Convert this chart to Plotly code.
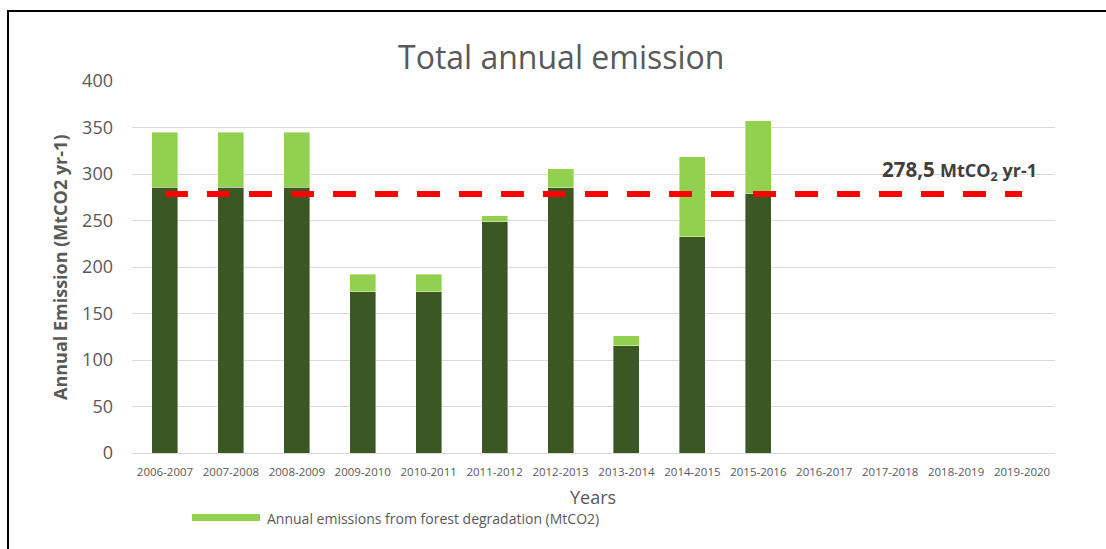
import plotly.graph_objects as go

categories = ["2006-2007", "2007-2008", "2008-2009", "2009-2010", "2010-2011",
              "2011-2012", "2012-2013", "2013-2014", "2014-2015", "2015-2016",
              "2016-2017", "2017-2018", "2018-2019", "2019-2020"]
deforestation = [286, 286, 286, 173.5, 173.5, 248.5, 285, 115.5, 232.5, 279,
                 None, None, None, None]
degradation = [59, 59, 59, 18.5, 18.5, 6.5, 20.5, 10.5, 86, 78,
               None, None, None, None]
reference_level = [278.5] * len(categories)
y_ticks = [0, 50, 100, 150, 200, 250, 300, 350, 400]

W, H = 1106, 549
L, R, T, B = 132, 51, 81, 96
PW, PH = W - L - R, H - T - B


def px(x):
    return (x - L) / PW


def py(y):
    return (H - B - y) / PH


FONT = "Open Sans"
GREY = "#595959"

fig = go.Figure()
fig.add_trace(go.Bar(
    x=categories, y=deforestation, name="Annual emissions from deforestation (MtCO2)",
    marker=dict(color="#3a5724", line=dict(color="rgba(255,255,255,0.5)", width=0.8)),
    showlegend=False,
))
fig.add_trace(go.Bar(
    x=categories, y=degradation, name="Annual emissions from forest degradation (MtCO2)",
    marker=dict(color="#92d050", line=dict(color="rgba(255,255,255,0.5)", width=0.8)),
    showlegend=False,
))
fig.add_trace(go.Scatter(
    x=categories, y=reference_level, mode="lines",
    line=dict(color="#ff0000", width=6, dash="23px,19px"),
    showlegend=False, hoverinfo="skip",
))

fig.update_layout(
    width=W, height=H,
    margin=dict(l=L, r=R, t=T, b=B, autoexpand=False),
    barmode="stack", bargap=0.605,
    plot_bgcolor="white", paper_bgcolor="white",
    font=dict(family=FONT, color=GREY),
    showlegend=False,
    xaxis=dict(
        type="category", categoryorder="array", categoryarray=categories,
        showgrid=False, showline=True, linecolor="#d9d9d9", linewidth=1,
        ticks="", tickfont=dict(size=11.5, color=GREY), ticklabelstandoff=8,
        fixedrange=True,
    ),
    yaxis=dict(
        range=[0, 400], tickvals=y_ticks, showgrid=True, gridcolor="#d9d9d9",
        gridwidth=1, zeroline=False, showline=False, ticks="",
        tickfont=dict(size=18, color=GREY), ticklabelstandoff=18,
    ),
    annotations=[
        dict(text="Total annual emission", xref="paper", yref="paper",
             x=px(561), y=py(56), xanchor="center", yanchor="middle",
             showarrow=False, font=dict(size=32, color=GREY, family=FONT)),
        dict(text="<b>Annual Emission (MtCO2 yr-1)</b>", xref="paper", yref="paper",
             x=px(60), y=py(268), xanchor="center", yanchor="middle", textangle=-90,
             showarrow=False, font=dict(size=18, color=GREY, family=FONT)),
        dict(text="Years", xref="paper", yref="paper",
             x=px(593), y=py(497), xanchor="center", yanchor="middle",
             showarrow=False, font=dict(size=18, color=GREY, family=FONT)),
        dict(text="Annual emissions from forest degradation (MtCO2)", xref="paper", yref="paper",
             x=px(265), y=py(518), xanchor="left", yanchor="middle",
             showarrow=False, font=dict(size=14, color=GREY, family=FONT)),
        dict(text="<b>278,5</b>", xref="paper", yref="paper",
             x=px(937), y=py(169), xanchor="right", yanchor="middle",
             showarrow=False, font=dict(size=20.5, color="#404040", family=FONT)),
        dict(text="<b>MtCO<sub>2</sub> yr-1</b>", xref="paper", yref="paper",
             x=px(938), y=py(171), xanchor="left", yanchor="middle",
             showarrow=False, font=dict(size=18, color="#404040", family=FONT)),
    ],
    shapes=[
        dict(type="rect", xref="paper", yref="paper",
             x0=px(192), x1=px(260), y0=py(521), y1=py(514),
             fillcolor="#92d050", line=dict(width=0)),
        dict(type="path", xref="paper", yref="paper",
             path=f"M {px(8)} {py(549)} L {px(8)} {py(11)} L {px(1106)} {py(11)}",
             line=dict(color="black", width=2)),
    ],
)

fig.write_html("out.html")
